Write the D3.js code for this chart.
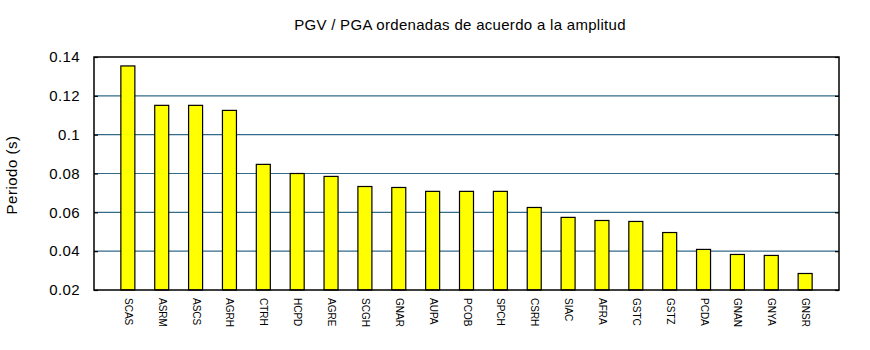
<!DOCTYPE html>
<html>
<head>
<meta charset="utf-8">
<script src="https://cdn.jsdelivr.net/npm/d3@7"></script>
<style>
  html, body { margin: 0; padding: 0; background: #fff; }
  svg { display: block; font-family: "Liberation Sans", Arial, sans-serif; }
</style>
</head>
<body>
<svg id="chart" width="870" height="350"></svg>
<script>
// Stations ordered by PGV / PGA ratio
const stations = ["SCAS","ASRM","ASCS","AGRH","CTRH","HCPD","AGRE","SCGH","GNAR","AUPA",
                  "PCOB","SPCH","CSRH","SIAC","AFRA","GSTC","GSTZ","PCDA","GNAN","GNYA","GNSR"];
const periods = [0.1354,0.1151,0.1151,0.1125,0.0847,0.0800,0.0785,0.0733,0.0728,0.0708,
                 0.0708,0.0708,0.0625,0.0574,0.0558,0.0553,0.0496,0.0409,0.0383,0.0378,0.0285];
const yTicks = [0.02,0.04,0.06,0.08,0.1,0.12,0.14];
const titleText = "PGV / PGA ordenadas de acuerdo a la amplitud";
const yLabel = "Periodo (s)";

const svg = d3.select("#chart");
const plot = { left: 94, right: 839, top: 57, bottom: 290 };

const x = d3.scalePoint().domain(stations).range([plot.left, plot.right]).padding(1);
const y = d3.scaleLinear().domain([0.02, 0.14]).range([plot.bottom, plot.top]);
const barW = 14;

// gridlines
svg.append("g")
  .selectAll("line")
  .data(yTicks.filter(t => t > 0.02 && t < 0.14))
  .join("line")
  .attr("x1", plot.left).attr("x2", plot.right)
  .attr("y1", d => y(d)).attr("y2", d => y(d))
  .attr("stroke", "#336b8a").attr("stroke-width", 1.2);

// bars
svg.append("g")
  .selectAll("rect")
  .data(stations)
  .join("rect")
  .attr("x", d => x(d) - barW / 2)
  .attr("y", (d, i) => y(periods[i]))
  .attr("width", barW)
  .attr("height", (d, i) => y(0.02) - y(periods[i]))
  .attr("fill", "#ffff00")
  .attr("stroke", "#000")
  .attr("stroke-width", 1.2);

// frame
svg.append("rect")
  .attr("x", plot.left).attr("y", plot.top)
  .attr("width", plot.right - plot.left).attr("height", plot.bottom - plot.top)
  .attr("fill", "none").attr("stroke", "#000").attr("stroke-width", 1.5);

// left axis: inward ticks + labels
const yAxisL = d3.axisLeft(y).tickValues(yTicks).tickSize(-4).tickPadding(14)
  .tickFormat(d => d3.format("")(+d.toFixed(2)));
const gL = svg.append("g").attr("transform", `translate(${plot.left},0)`).call(yAxisL);
gL.select(".domain").remove();
gL.selectAll(".tick line").attr("stroke", "#000").attr("stroke-width", 1.2);
gL.selectAll(".tick text").attr("font-size", 15).attr("letter-spacing", 0.4).attr("fill", "#000")
  .attr("font-family", "Liberation Sans, Arial, sans-serif");

// right axis: inward ticks only
const yAxisR = d3.axisRight(y).tickValues(yTicks).tickSize(-4).tickFormat("");
const gR = svg.append("g").attr("transform", `translate(${plot.right},0)`).call(yAxisR);
gR.select(".domain").remove();
gR.selectAll(".tick line").attr("stroke", "#000").attr("stroke-width", 1.2);

// category labels, vertical
const xAxis = d3.axisBottom(x).tickSize(0).tickPadding(0);
const gX = svg.append("g").attr("transform", `translate(0,${plot.bottom})`).call(xAxis);
gX.select(".domain").remove();
gX.selectAll(".tick text")
  .attr("transform", "translate(0,8) rotate(90)")
  .attr("text-anchor", "start")
  .attr("dy", "0.35em")
  .attr("x", 0).attr("y", 0)
  .attr("font-size", 10).attr("fill", "#000")
  .attr("font-family", "Liberation Sans, Arial, sans-serif");

// title
svg.append("text")
  .attr("x", 460).attr("y", 30)
  .attr("text-anchor", "middle")
  .attr("font-size", 15)
  .attr("letter-spacing", 0.3)
  .text(titleText);

// y axis title
svg.append("text")
  .attr("transform", "translate(17,175) rotate(-90)")
  .attr("text-anchor", "middle")
  .attr("font-size", 15)
  .attr("letter-spacing", 0.5)
  .text(yLabel);
</script>
</body>
</html>
